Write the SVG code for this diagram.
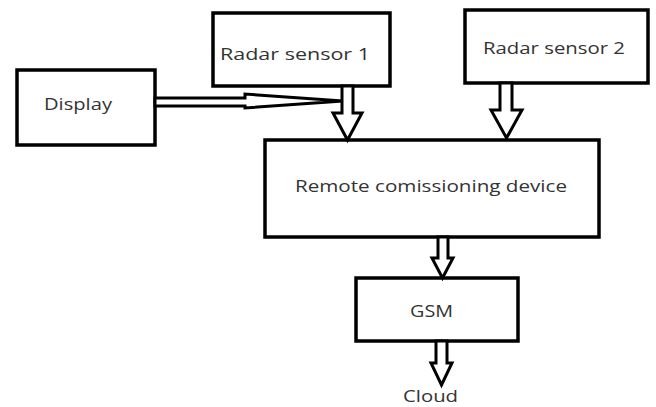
<svg xmlns="http://www.w3.org/2000/svg" width="656" height="407" viewBox="0 0 656 407">
<style>
.box{fill:#fff;stroke:#000;stroke-width:3.5}
.arr{fill:#fff;stroke:#000;stroke-width:3;stroke-linejoin:miter}
.t{font-family:"Open Sans","Liberation Sans",sans-serif;font-size:16px;fill:#333}
</style>
<rect width="656" height="407" fill="#fff"/>
<g id="display"><rect class="box" x="17" y="70" width="138" height="75"/><text class="t" x="44" y="110" textLength="68" lengthAdjust="spacingAndGlyphs">Display</text></g>
<g id="radar1"><rect class="box" x="213" y="13" width="177" height="73"/><text class="t" x="220" y="60" textLength="150" lengthAdjust="spacingAndGlyphs">Radar sensor 1</text></g>
<g id="radar2"><rect class="box" x="465" y="10" width="183" height="73"/><text class="t" x="483" y="54" textLength="142" lengthAdjust="spacingAndGlyphs">Radar sensor 2</text></g>
<g id="remote"><rect class="box" x="265" y="140" width="334" height="97"/><text class="t" x="295" y="192" textLength="272" lengthAdjust="spacingAndGlyphs">Remote comissioning device</text></g>
<g id="gsm"><rect class="box" x="356" y="278" width="162" height="63"/><text class="t" x="410" y="317" textLength="43" lengthAdjust="spacingAndGlyphs">GSM</text></g>
<g id="cloud"><text class="t" x="403" y="402" textLength="55" lengthAdjust="spacingAndGlyphs">Cloud</text></g>
<g id="connectors">
<polygon class="arr" points="155,98 245,98 245,94 343,101 245,108 245,106 155,106"/>
<polygon class="arr" points="342,86 353,86 353,113 362,113 347.5,140 333,113 342,113"/>
<polygon class="arr" points="500,83 512,83 512,110 522,110 506.5,138 491,110 500,110"/>
<polygon class="arr" points="438,237 448,237 448,258 453,258 442.5,278 432,258 438,258"/>
<polygon class="arr" points="436,341 447,341 447,363 452,363 441.5,385 431,363 436,363"/>
</g>
</svg>
